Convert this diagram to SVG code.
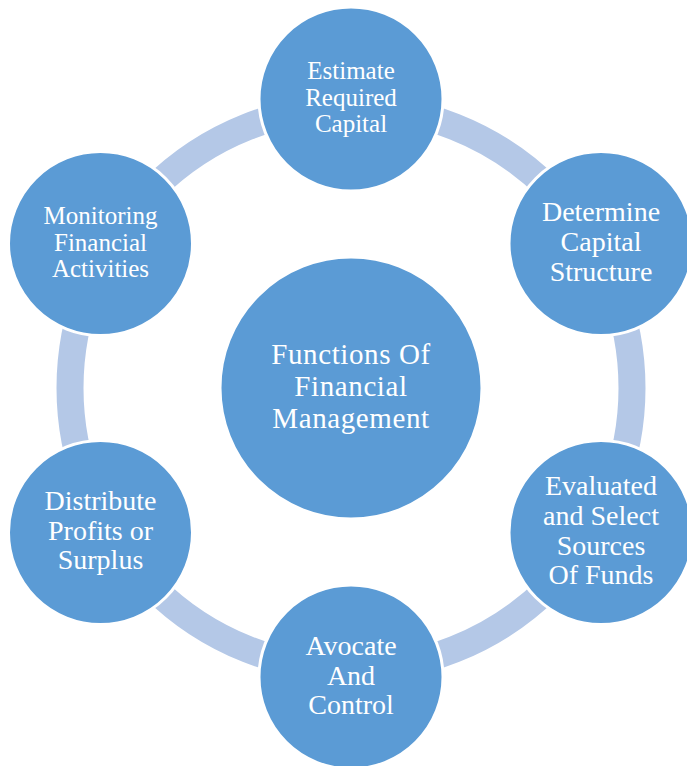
<svg xmlns="http://www.w3.org/2000/svg" width="687" height="766" viewBox="0 0 687 766">
  <style>
    .node { fill: #5B9BD5; stroke: #FFFFFF; stroke-width: 3; }
    .ring { fill: none; stroke: #B4C8E7; stroke-width: 27; }
    .label { font-family: "Liberation Serif", "Times New Roman", serif; fill: #FFFFFF; text-anchor: middle; }
    .sm { font-size: 25px; }
    .md { font-size: 28px; }
    .lg { font-size: 29px; letter-spacing: 0.6px; }
  </style>
  <rect width="687" height="766" fill="#FFFFFF"/>

  <!-- cycle ring linking the outer nodes -->
  <g id="connectors">
    <circle class="ring" cx="351" cy="388" r="281"/>
  </g>

  <g id="center">
    <circle class="node" cx="351" cy="388" r="131"/>
    <text class="label lg" x="351" y="364">Functions Of</text>
    <text class="label lg" x="351" y="396">Financial</text>
    <text class="label lg" x="351" y="428">Management</text>
  </g>

  <g id="estimate">
    <circle class="node" cx="351" cy="99" r="92"/>
    <text class="label sm" x="351" y="79">Estimate</text>
    <text class="label sm" x="351" y="106">Required</text>
    <text class="label sm" x="351" y="132">Capital</text>
  </g>

  <g id="determine">
    <circle class="node" cx="601" cy="243.5" r="92"/>
    <text class="label md" x="601" y="221">Determine</text>
    <text class="label md" x="601" y="251">Capital</text>
    <text class="label md" x="601" y="281">Structure</text>
  </g>

  <g id="evaluate">
    <circle class="node" cx="601" cy="532.5" r="92"/>
    <text class="label md" x="601" y="495">Evaluated</text>
    <text class="label md" x="601" y="525">and Select</text>
    <text class="label md" x="601" y="555">Sources</text>
    <text class="label md" x="601" y="584">Of Funds</text>
  </g>

  <g id="avocate">
    <circle class="node" cx="351" cy="677" r="92"/>
    <text class="label md" x="351" y="655">Avocate</text>
    <text class="label md" x="351" y="685">And</text>
    <text class="label md" x="351" y="714">Control</text>
  </g>

  <g id="distribute">
    <circle class="node" cx="100.5" cy="532.5" r="92"/>
    <text class="label md" x="100.5" y="510">Distribute</text>
    <text class="label md" x="100.5" y="540">Profits or</text>
    <text class="label md" x="100.5" y="569">Surplus</text>
  </g>

  <g id="monitoring">
    <circle class="node" cx="100.5" cy="243.5" r="92"/>
    <text class="label sm" x="100.5" y="224">Monitoring</text>
    <text class="label sm" x="100.5" y="251">Financial</text>
    <text class="label sm" x="100.5" y="277">Activities</text>
  </g>
</svg>
